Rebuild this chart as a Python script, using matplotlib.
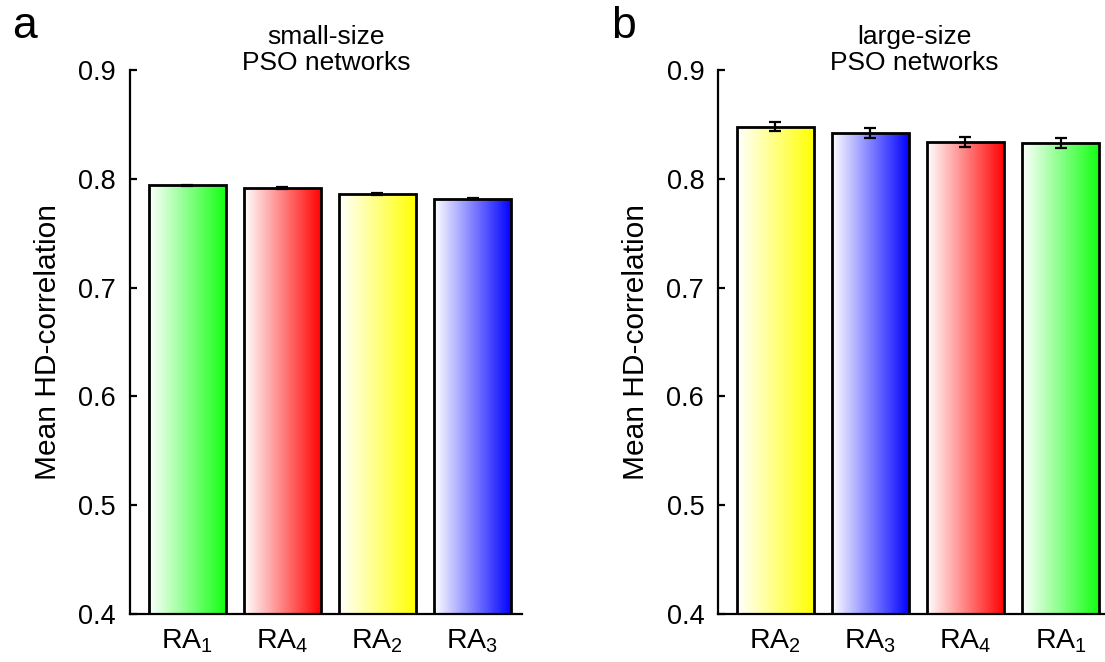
import numpy as np
import matplotlib
matplotlib.use("Agg")
import matplotlib.pyplot as plt
from matplotlib.colors import to_rgb

plt.rcParams['font.family'] = ['Liberation Sans', 'DejaVu Sans']
plt.rcParams['mathtext.default'] = 'regular'

# Datos de los dos paneles
small_labels = ['RA$_1$', 'RA$_4$', 'RA$_2$', 'RA$_3$']
small_means = [0.794, 0.7915, 0.786, 0.7815]
small_err = [0.0006, 0.0006, 0.0005, 0.0005]
small_colors = ['#10ff10', '#ff0000', '#ffff00', '#0000ff']

large_labels = ['RA$_2$', 'RA$_3$', 'RA$_4$', 'RA$_1$']
large_means = [0.848, 0.842, 0.834, 0.833]
large_err = [0.004, 0.0043, 0.0045, 0.0045]
large_colors = ['#ffff00', '#0000ff', '#ff0000', '#10ff10']

yticks = [0.4, 0.5, 0.6, 0.7, 0.8, 0.9]

fig = plt.figure(figsize=(11.05, 6.62), dpi=100)
ax_a = fig.add_axes([0.1176, 0.0725, 0.3548, 0.8218])
ax_b = fig.add_axes([0.6498, 0.0725, 0.3548, 0.8218])


def gradient_bars(ax, labels, means, errs, colors, title):
    x = np.arange(len(means))
    bars = ax.bar(x, [m - 0.4 for m in means], width=0.81, bottom=0.4,
                  facecolor='none', edgecolor='black', linewidth=2, zorder=3)
    # Relleno degradado de blanco al color de cada barra
    ramp = np.linspace(0, 1, 256)
    for bar, c in zip(bars, colors):
        rgb = np.array(to_rgb(c))
        img = (1 - ramp[:, None]) * np.ones(3) + ramp[:, None] * rgb
        img = img[None, :, :]
        x0, y0 = bar.get_x(), bar.get_y()
        w, h = bar.get_width(), bar.get_height()
        im = ax.imshow(img, extent=[x0, x0 + w, y0, y0 + h], aspect='auto',
                       interpolation='bilinear', zorder=2)
        im.set_clip_path(bar)
    ax.errorbar(x, means, yerr=errs, fmt='none', ecolor='black',
                elinewidth=1.6, capsize=4, capthick=1.6, zorder=4)

    ax.set_xlim(-0.6, len(means) - 1 + 0.52)
    ax.set_ylim(0.4, 0.9)
    ax.set_yticks(yticks)
    ax.set_yticklabels([f'{t:.1f}' for t in yticks])
    ax.set_xticks(x)
    ax.set_xticklabels(labels)
    ax.tick_params(axis='y', direction='in', length=5, width=1.6,
                   labelsize=19.5, pad=10)
    ax.tick_params(axis='x', length=0, labelsize=20.5, pad=10)
    for s in ['top', 'right']:
        ax.spines[s].set_visible(False)
    for s in ['left', 'bottom']:
        ax.spines[s].set_linewidth(1.6)
    ax.set_ylabel('Mean HD-correlation', fontsize=21.5, labelpad=12)
    ax.set_title(title, fontsize=19, y=1.0, pad=0, linespacing=1.12)


gradient_bars(ax_a, small_labels, small_means, small_err, small_colors,
              'small-size\nPSO networks')
gradient_bars(ax_b, large_labels, large_means, large_err, large_colors,
              'large-size\nPSO networks')

fig.text(0.011, 0.943, 'a', fontsize=32)
fig.text(0.553, 0.943, 'b', fontsize=32)

fig.savefig('out.png', dpi=100)
